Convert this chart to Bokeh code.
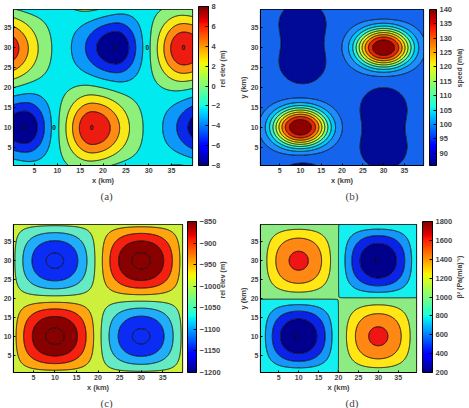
import numpy as np
from bokeh.plotting import figure
from bokeh.layouts import column, row
from bokeh.models import (ColorBar, LinearColorMapper, FixedTicker, Range1d, Title,
                          LinearAxis)
from bokeh.embed import file_html
from bokeh.resources import INLINE
from bokeh.core.properties import value

# ---------------- domain (km) ----------------
x_lo, x_hi = 0.4, 39.6
period_km = 40.0
axis_ticks = [5, 10, 15, 20, 25, 30, 35]

# ---------------- (a) relative surface elevation (m) ----------------
elev_base = -1.0
elev_cx = [17.7, 37.7, 2.8, 22.8]
elev_cy = [9.8, 29.8, 10.0, 30.0]
elev_amp = [9.0, 9.0, -7.0, -7.0]
elev_sx_left = [4.1, 4.1, 5.2, 5.2]
elev_sx_right = [5.5, 5.5, 3.6, 3.6]
elev_sy = [5.9, 5.9, 5.2, 5.2]
elev_power = [2.0, 2.0, 2.0, 2.0]
elev_levels = [-12, -6, -4, -2, 0, 2, 4, 6, 12]
elev_fill = ["#000090", "#0828ea", "#0c98fa", "#00eaf0",
             "#8cf07a", "#f8e818", "#ff8c10", "#ec1c10"]
elev_cbar = (-8, 8, [-8, -6, -4, -2, 0, 2, 4, 6, 8])
elev_mark_x = [2.6, 9.3, 17.5, 22.7, 29.7, 37.6]
elev_mark_y = [10.0, 10.0, 10.0, 30.0, 30.0, 30.0]
elev_mark_text = ["0", "0", "0", "0", "0", "0"]

# ---------------- (b) surface speed (m/a) ----------------
speed_base = 93.0
speed_cx = [10.0, 30.0, 10.5, 10.5, 30.0, 30.0]
speed_cy = [10.0, 30.0, 26.0, 36.5, 4.5, 15.0]
speed_amp = [46.5, 46.5, -6.0, -6.0, -6.0, -6.0]
speed_sx_left = [5.0, 5.0, 4.6, 4.6, 4.6, 4.6]
speed_sx_right = [5.0, 5.0, 4.6, 4.6, 4.6, 4.6]
speed_sy = [3.7, 3.7, 4.3, 4.3, 4.3, 4.3]
speed_power = [2.5, 2.5, 2.0, 2.0, 2.0, 2.0]
speed_levels = [70, 90, 95, 100, 105, 110, 115, 120, 125, 130, 135, 160]
speed_fill = ["#000a96", "#1464ee", "#1e8cff", "#00c8ff", "#2ef0dc", "#82ff82",
              "#d2fa2a", "#ffc800", "#ff7800", "#ec2400", "#8c0000"]
speed_cbar = (85.7, 140, [90, 95, 100, 105, 110, 115, 120, 125, 130, 135, 140])

# ---------------- (c) relative bed elevation (m) ----------------
bed_base = -1030.0
bed_cx = [10.0, 30.0, 10.0, 30.0]
bed_cy = [10.0, 30.0, 30.0, 10.0]
bed_amp = [191.0, 191.0, -179.0, -179.0]
bed_half_x = [10.0, 10.0, 10.0, 10.0]
bed_half_y = [10.0, 10.0, 10.0, 10.0]
bed_levels = [-1300, -1200, -1150, -1100, -1050, -1000, -950, -900, -850, -800]
bed_fill = ["#0a2cf4", "#0a2cf4", "#20aefa", "#64ebc4", "#cdf03c",
            "#ffa510", "#f5200f", "#880000", "#880000"]
bed_cbar = (-1200, -850, [-1200, -1150, -1100, -1050, -1000, -950, -900, -850])

# ---------------- (d) basal friction beta^2 ----------------
beta_base = 1001.0
beta_cx = [10.0, 30.0, 10.0, 30.0]
beta_cy = [30.0, 10.0, 10.0, 30.0]
beta_amp = [645.0, 645.0, -798.0, -798.0]
beta_half_x = [10.0, 10.0, 10.0, 10.0]
beta_half_y = [10.4, 10.4, 10.0, 10.0]
beta_levels = [0, 200, 400, 600, 800, 1000, 1200, 1400, 1600, 1800, 2200]
beta_fill = ["#00008c", "#00008c", "#0a23e6", "#1496fa", "#14f0f0",
             "#8ceb82", "#ffe614", "#ff8714", "#f01414", "#f01414"]
beta_cbar = (200, 1800, [200, 400, 600, 800, 1000, 1200, 1400, 1600, 1800])
beta_mark_x = [9.6, 29.7]
beta_mark_y = [10.0, 30.1]
beta_mark_text = ["0", "0"]

FONT = "Liberation Sans"
TICK_SIZE = "7px"
AXIS_LABEL_SIZE = "7.5px"
CB_TICK_SIZE = "7.5px"
CB_TITLE_SIZE = "7px"


def jet(t):
    t = np.clip(t, 0.0, 1.0)
    r = np.interp(t, [0, 0.35, 0.66, 0.89, 1], [0, 0, 1, 1, 0.5])
    g = np.interp(t, [0, 0.125, 0.375, 0.64, 0.91, 1], [0, 0, 1, 1, 0, 0])
    b = np.interp(t, [0, 0.11, 0.34, 0.65, 1], [0.5, 1, 1, 0, 0])
    return r, g, b


JET256 = ["#%02x%02x%02x" % tuple(int(round(255 * c)) for c in jet(i / 255.0))
          for i in range(256)]

xs = np.linspace(x_lo, x_hi, 320)
ys = np.linspace(x_lo, x_hi, 320)


def exp_field(base, cx, cy, amp, sxl, sxr, sy, power):
    X, Y = np.meshgrid(xs, ys)
    z = np.full(X.shape, float(base))
    for i in range(len(cx)):
        for ox in (-period_km, 0.0, period_km):
            for oy in (-period_km, 0.0, period_km):
                dx = X - (cx[i] + ox)
                dy = Y - (cy[i] + oy)
                s = np.where(dx < 0, sxl[i], sxr[i])
                rho2 = (dx / s) ** 2 + (dy / sy[i]) ** 2
                z += amp[i] * np.exp(-0.5 * rho2 ** (power[i] / 2.0))
    return z


def cos_field(base, cx, cy, amp, hx, hy):
    X, Y = np.meshgrid(xs, ys)
    z = np.full(X.shape, float(base))
    for i in range(len(cx)):
        for ox in (-period_km, 0.0, period_km):
            for oy in (-period_km, 0.0, period_km):
                dx = X - (cx[i] + ox)
                dy = Y - (cy[i] + oy)
                inside = (np.abs(dx) < hx[i]) & (np.abs(dy) < hy[i])
                bump = np.cos(0.5 * np.pi * dx / hx[i]) * np.cos(0.5 * np.pi * dy / hy[i])
                z += amp[i] * np.where(inside, bump, 0.0)
    return z


def make_panel(z, levels, fills, cbar, cb_title, caption, cap_offset, width, height,
               borders, bar_gap, bar_width, show_ylabel, title_standoff, marks=None):
    left, right, top, bottom = borders
    frame_h = height - top - bottom
    p = figure(width=width, height=height, x_range=Range1d(x_lo, x_hi),
               y_range=Range1d(x_lo, x_hi), output_backend="svg", toolbar_location=None,
               min_border_left=left, min_border_right=right,
               min_border_top=top, min_border_bottom=bottom)
    p.contour(xs, ys, z, levels, fill_color=fills, line_color="black", line_width=0.9)
    if marks is not None:
        mx, my, mt = marks
        p.text(x=mx, y=my, text=mt, text_font=value(FONT),
               text_font_size=value("6.5px"), text_font_style="bold",
               text_align="center", text_baseline="middle", text_color="#111111")
    p.xgrid.visible = False
    p.ygrid.visible = False
    p.outline_line_color = "black"
    p.outline_line_width = 1.2
    p.background_fill_color = "white"
    for ax in (p.xaxis[0], p.yaxis[0]):
        ax.ticker = FixedTicker(ticks=axis_ticks)
        ax.major_label_text_font = FONT
        ax.major_label_text_font_size = TICK_SIZE
        ax.major_label_text_font_style = "bold"
        ax.axis_label_text_font = FONT
        ax.axis_label_text_font_size = AXIS_LABEL_SIZE
        ax.axis_label_text_font_style = "bold"
        ax.major_tick_in = 2
        ax.major_tick_out = 0
        ax.minor_tick_line_color = None
        ax.axis_line_color = "black"
        ax.major_label_standoff = 2
        ax.axis_label_standoff = 0
    p.xaxis[0].axis_label = "x (km)"
    if show_ylabel:
        p.yaxis[0].axis_label = "y (km)"

    low, high, cticks = cbar
    mapper = LinearColorMapper(palette=JET256, low=low, high=high)
    cb = ColorBar(color_mapper=mapper, ticker=FixedTicker(ticks=cticks),
                  width=bar_width, height=frame_h, location=(bar_gap, 0),
                  padding=0, margin=0, label_standoff=3,
                  major_label_text_font=FONT, major_label_text_font_size=CB_TICK_SIZE,
                  major_label_text_font_style="bold",
                  major_tick_line_color="black", major_tick_in=3, major_tick_out=0,
                  minor_tick_line_color=None,
                  bar_line_color="black", bar_line_width=1,
                  border_line_color=None, background_fill_color=None)
    p.add_layout(cb, "right")

    # colorbar caption as a bare right-hand axis that only carries its label
    cb_axis = LinearAxis(axis_label=cb_title, ticker=FixedTicker(ticks=[]),
                         axis_line_color=None, major_tick_line_color=None,
                         minor_tick_line_color=None, major_label_text_font_size="0px",
                         major_tick_in=0, major_tick_out=0, minor_tick_in=0,
                         minor_tick_out=0, major_label_standoff=0,
                         axis_label_standoff=title_standoff,
                         axis_label_orientation=np.pi / 2,
                         axis_label_text_font=FONT,
                         axis_label_text_font_size=CB_TITLE_SIZE,
                         axis_label_text_font_style="bold")
    p.add_layout(cb_axis, "right")

    p.add_layout(Title(text=caption, align="left", offset=cap_offset, standoff=0,
                       text_font="Liberation Serif", text_font_size="11px",
                       text_font_style="normal"), "below")
    return p


z_a = exp_field(elev_base, elev_cx, elev_cy, elev_amp, elev_sx_left, elev_sx_right,
                elev_sy, elev_power)
z_b = exp_field(speed_base, speed_cx, speed_cy, speed_amp, speed_sx_left, speed_sx_right,
                speed_sy, speed_power)
z_c = cos_field(bed_base, bed_cx, bed_cy, bed_amp, bed_half_x, bed_half_y)
z_d = cos_field(beta_base, beta_cx, beta_cy, beta_amp, beta_half_x, beta_half_y)

pa = make_panel(z_a, elev_levels, elev_fill, elev_cbar, "rel elev (m)", "(a)", 87,
                235, 203, (13, 43, 6, 38), 6, 10, False, -1,
                marks=(elev_mark_x, elev_mark_y, elev_mark_text))
pb = make_panel(z_b, speed_levels, speed_fill, speed_cbar, "speed (m/a)", "(b)", 85,
                234, 203, (21, 39, 9, 38), 6, 7, True, 4)
pc = make_panel(z_c, bed_levels, bed_fill, bed_cbar, "rel elev (m)", "(c)", 87,
                235, 205, (13, 53, 21, 33), 5, 9, False, -1)
pd = make_panel(z_d, beta_levels, beta_fill, beta_cbar, "\u03b2\u00b2 (Pa(m/a)\u207b\u00b9)",
                "(d)", 85, 234, 205, (21, 44, 20, 34), 6, 10, True, 4,
                marks=(beta_mark_x, beta_mark_y, beta_mark_text))

layout = column(row(pa, pb, spacing=0), row(pc, pd, spacing=0), spacing=0)
open("out.html", "w").write(file_html(layout, INLINE))
